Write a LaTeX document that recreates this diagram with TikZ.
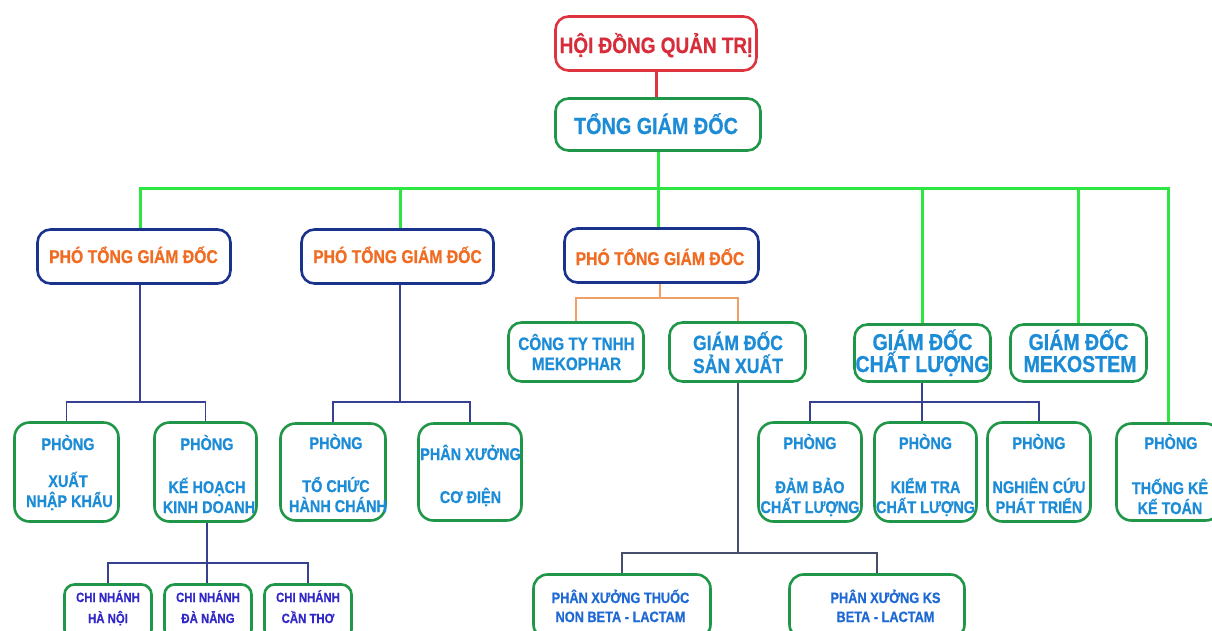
\documentclass[tikz,border=0pt]{standalone}
\usepackage{fontspec}
\newfontfamily\cf[FakeStretch=0.85,FakeBold=0.6]{Liberation Sans}
\definecolor{boxgreen}{RGB}{32,150,72}
\definecolor{boxnavy}{RGB}{25,50,140}
\definecolor{boxred}{RGB}{222,52,64}
\definecolor{txtred}{RGB}{215,45,58}
\definecolor{txtblue}{RGB}{28,140,215}
\definecolor{txtorange}{RGB}{240,108,35}
\definecolor{txtindigo}{RGB}{50,40,200}
\definecolor{txtpx}{RGB}{30,105,212}
\definecolor{lime}{RGB}{45,230,65}
\definecolor{navyline}{RGB}{55,65,145}
\definecolor{orangeline}{RGB}{240,160,100}
\definecolor{grayline}{RGB}{70,78,110}
\begin{document}
\begin{tikzpicture}[x=1pt,y=-1pt,
  gbox/.style={draw=boxgreen, line width=2.6pt, rounded corners=13pt, fill=white, inner sep=0pt},
  nbox/.style={draw=boxnavy, line width=2.6pt, rounded corners=13pt, fill=white, inner sep=0pt},
  rbox/.style={draw=boxred, line width=2.6pt, rounded corners=13pt, fill=white, inner sep=0pt},
  tx/.style={anchor=base, inner sep=0pt, font=\cf\bfseries},
  gline/.style={draw=lime, line width=3pt},
  rline/.style={draw=boxred, line width=3pt},
  nline/.style={draw=navyline, line width=1.4pt},
  oline/.style={draw=orangeline, line width=2pt},
  kline/.style={draw=grayline, line width=2pt}]
\useasboundingbox (0,0) rectangle (1212,630);
\clip (0,0) rectangle (1212,630);
\fill[white] (0,0) rectangle (1212,630);

% junction coordinates
\coordinate (bl) at (140,188);
\coordinate (br) at (1168,188);
\coordinate (d2) at (400,188);
\coordinate (d3) at (658,188);
\coordinate (d4) at (922,188);
\coordinate (d5) at (1078,188);
\coordinate (j1) at (140,402);
\coordinate (j2) at (400,402);
\coordinate (j3) at (207,563);
\coordinate (j4) at (660,298);
\coordinate (j5) at (738,553);
\coordinate (j6) at (922,402);

% boxes
\node[rbox, minimum width=201pt, minimum height=54pt] (hdqt) at (656,43.5) {};
\node[gbox, minimum width=205pt, minimum height=52pt] (tgd) at (658,124.5) {};
\node[nbox, minimum width=193pt, minimum height=54pt] (ptgd1) at (134,256.5) {};
\node[nbox, minimum width=192pt, minimum height=54pt] (ptgd2) at (397.5,256.5) {};
\node[nbox, minimum width=194pt, minimum height=54pt] (ptgd3) at (661.5,255.5) {};
\node[gbox, minimum width=135pt, minimum height=59pt] (cty) at (576,352) {};
\node[gbox, minimum width=136pt, minimum height=59pt] (gdsx) at (737.5,352) {};
\node[gbox, minimum width=136pt, minimum height=57pt] (gdcl) at (922.5,353) {};
\node[gbox, minimum width=136pt, minimum height=57pt] (mek) at (1078.5,353) {};
\node[gbox, rounded corners=15pt, minimum width=104pt, minimum height=99pt] (pxnk) at (66.5,472) {};
\node[gbox, rounded corners=15pt, minimum width=102pt, minimum height=99pt] (pkhkd) at (205.5,472) {};
\node[gbox, rounded corners=15pt, minimum width=105pt, minimum height=97pt] (ptchc) at (333,472) {};
\node[gbox, rounded corners=15pt, minimum width=103pt, minimum height=97pt] (pxcd) at (470,472) {};
\node[gbox, rounded corners=15pt, minimum width=103pt, minimum height=99pt] (pdbcl) at (810,472) {};
\node[gbox, rounded corners=15pt, minimum width=102pt, minimum height=99pt] (pktcl) at (925.5,472) {};
\node[gbox, rounded corners=15pt, minimum width=103pt, minimum height=99pt] (pncpt) at (1039,472) {};
\node[gbox, rounded corners=15pt, minimum width=104pt, minimum height=97pt] (ptkkt) at (1168.5,472) {};
\node[gbox, rounded corners=10pt, minimum width=87pt, minimum height=55pt] (cn1) at (108,612) {};
\node[gbox, rounded corners=10pt, minimum width=87pt, minimum height=55pt] (cn2) at (208,612) {};
\node[gbox, rounded corners=10pt, minimum width=87pt, minimum height=55pt] (cn3) at (308,612) {};
\node[gbox, rounded corners=14pt, minimum width=177pt, minimum height=64pt] (pxt) at (622,606.5) {};
\node[gbox, rounded corners=14pt, minimum width=175pt, minimum height=64pt] (pxks) at (877,606.5) {};

% connectors
\draw[rline] (hdqt.south) -- (hdqt.south |- tgd.north);
\draw[gline] (tgd.south) -- (d3);
\draw[gline] (bl |- ptgd1.north) -- (bl) -- (br) -- (br |- ptkkt.north);
\draw[gline] (d2) -- (d2 |- ptgd2.north);
\draw[gline] (d3) -- (d3 |- ptgd3.north);
\draw[gline] (d4) -- (d4 |- gdcl.north);
\draw[gline] (d5) -- (d5 |- mek.north);

\draw[nline] (j1 |- ptgd1.south) -- (j1);
\draw[nline] (pxnk.north) |- (j1) -| (pkhkd.north);
\draw[nline] (j2 |- ptgd2.south) -- (j2);
\draw[nline] (ptchc.north) |- (j2) -| (pxcd.north);
\draw[nline] (j3 |- pkhkd.south) -- (j3) -- (j3 |- cn2.north);
\draw[nline] (cn1.north) |- (j3) -| (cn3.north);
\draw[oline] (j4 |- ptgd3.south) -- (j4);
\draw[oline] (cty.north) |- (j4) -| (gdsx.north);
\draw[kline] (j5 |- gdsx.south) -- (j5);
\draw[kline] (pxt.north) |- (j5) -| (pxks.north);
\draw[nline] (j6 |- gdcl.south) -- (j6) -- (j6 |- pktcl.north);
\draw[nline] (pdbcl.north) |- (j6) -| (pncpt.north);

% texts
\node[tx, text=txtred, font=\cf\bfseries\fontsize{22.3}{26}\selectfont] (t-hdqt) at (656,53) {HỘI ĐỒNG QUẢN TRỊ};
\node[tx, text=txtblue, font=\cf\bfseries\fontsize{23.3}{27}\selectfont] (t-tgd) at (656,134) {TỔNG GIÁM ĐỐC};
\node[tx, text=txtorange, font=\cf\bfseries\fontsize{18.5}{22}\selectfont] (t-p1) at (133.5,263) {PHÓ TỔNG GIÁM ĐỐC};
\node[tx, text=txtorange, font=\cf\bfseries\fontsize{18.5}{22}\selectfont] (t-p2) at (397.5,263) {PHÓ TỔNG GIÁM ĐỐC};
\node[tx, text=txtorange, font=\cf\bfseries\fontsize{18.5}{22}\selectfont] (t-p3) at (660,265) {PHÓ TỔNG GIÁM ĐỐC};

\node[tx, text=txtblue, font=\cf\bfseries\fontsize{18}{21}\selectfont] (t-cty1) at (576.5,350) {CÔNG TY TNHH};
\node[tx, text=txtblue, font=\cf\bfseries\fontsize{18}{21}\selectfont] (t-cty2) at (576.5,370) {MEKOPHAR};
\node[tx, text=txtblue, font=\cf\bfseries\fontsize{20.7}{24}\selectfont] (t-sx1) at (738,350) {GIÁM ĐỐC};
\node[tx, text=txtblue, font=\cf\bfseries\fontsize{20.7}{24}\selectfont] (t-sx2) at (738,373) {SẢN XUẤT};
\node[tx, text=txtblue, font=\cf\bfseries\fontsize{23}{27}\selectfont] (t-cl1) at (922.5,350) {GIÁM ĐỐC};
\node[tx, text=txtblue, font=\cf\bfseries\fontsize{23}{27}\selectfont] (t-cl2) at (922.5,372) {CHẤT LƯỢNG};
\node[tx, text=txtblue, font=\cf\bfseries\fontsize{23}{27}\selectfont] (t-mk1) at (1078.5,350) {GIÁM ĐỐC};
\node[tx, text=txtblue, font=\cf\bfseries\fontsize{23}{27}\selectfont] (t-mk2) at (1080,372) {MEKOSTEM};

\tikzset{ph/.style={tx, text=txtblue, font=\cf\bfseries\fontsize{17}{20}\selectfont}}
\node[ph] (t-xnk0) at (68,450) {PHÒNG};
\node[ph] (t-xnk1) at (68,487) {XUẤT};
\node[ph] (t-xnk2) at (69.5,507) {NHẬP KHẨU};
\node[ph] (t-kh0) at (207,450) {PHÒNG};
\node[ph] (t-kh1) at (207,493) {KẾ HOẠCH};
\node[ph] (t-kh2) at (209,513) {KINH DOANH};
\node[ph] (t-tc0) at (336,449) {PHÒNG};
\node[ph] (t-tc1) at (336,492) {TỔ CHỨC};
\node[ph] (t-tc2) at (338,512) {HÀNH CHÁNH};
\node[ph] (t-cd1) at (470.5,460) {PHÂN XƯỞNG};
\node[ph] (t-cd2) at (470.5,503) {CƠ ĐIỆN};
\node[ph] (t-db0) at (810,449) {PHÒNG};
\node[ph] (t-db1) at (810,493) {ĐẢM BẢO};
\node[ph] (t-db2) at (810,513) {CHẤT LƯỢNG};
\node[ph] (t-kt0) at (925.5,449) {PHÒNG};
\node[ph] (t-kt1) at (925.5,493) {KIỂM TRA};
\node[ph] (t-kt2) at (925.5,513) {CHẤT LƯỢNG};
\node[ph] (t-nc0) at (1039,449) {PHÒNG};
\node[ph] (t-nc1) at (1039,493) {NGHIÊN CỨU};
\node[ph] (t-nc2) at (1039,513) {PHÁT TRIỂN};
\node[ph] (t-tk0) at (1171,449) {PHÒNG};
\node[ph] (t-tk1) at (1170,494) {THỐNG KÊ};
\node[ph] (t-tk2) at (1170,514) {KẾ TOÁN};

\tikzset{cnt/.style={tx, text=txtindigo, font=\cf\bfseries\fontsize{13.4}{16}\selectfont}}
\node[cnt] (t-cn1a) at (108,602) {CHI NHÁNH};
\node[cnt] (t-cn1b) at (108,623) {HÀ NỘI};
\node[cnt] (t-cn2a) at (208,602) {CHI NHÁNH};
\node[cnt] (t-cn2b) at (208,623) {ĐÀ NẴNG};
\node[cnt] (t-cn3a) at (308,602) {CHI NHÁNH};
\node[cnt] (t-cn3b) at (308,623) {CẦN THƠ};

\tikzset{pxtx/.style={tx, text=txtpx, font=\cf\bfseries\fontsize{15}{18}\selectfont}}
\node[pxtx] (t-pxt1) at (620.5,603) {PHÂN XƯỞNG THUỐC};
\node[pxtx] (t-pxt2) at (620.5,622) {NON BETA - LACTAM};
\node[pxtx] (t-pxk1) at (885.5,603) {PHÂN XƯỞNG KS};
\node[pxtx] (t-pxk2) at (885.5,622) {BETA - LACTAM};
\end{tikzpicture}
\end{document}
